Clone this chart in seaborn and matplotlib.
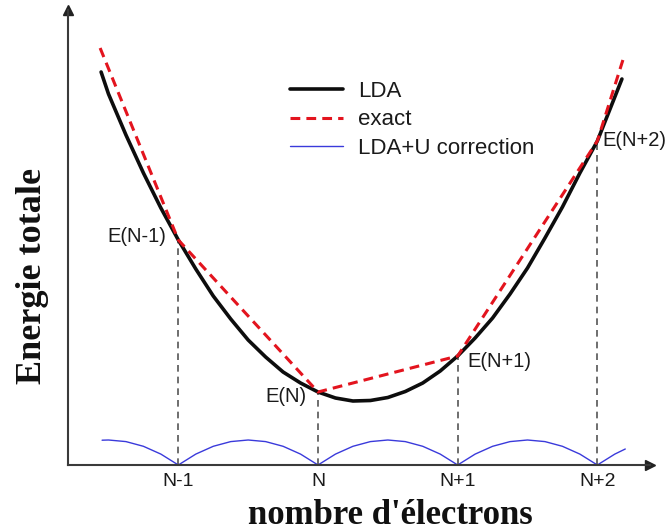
import matplotlib
matplotlib.use("Agg")
import matplotlib.pyplot as plt
import seaborn as sns
import pandas as pd

# ---- data (x in units of electrons relative to N, energy in arbitrary units) ----
tick_pos = [-1, 0, 1, 2]
tick_labels = ["N-1", "N", "N+1", "N+2"]

lda_x = [-1.553, -1.5, -1.375, -1.25, -1.125, -1.0, -0.875, -0.75, -0.625, -0.5,
         -0.375, -0.25, -0.125, 0.0, 0.125, 0.25, 0.375, 0.5, 0.625, 0.75, 0.875,
         1.0, 1.125, 1.25, 1.375, 1.5, 1.625, 1.75, 1.875, 2.0, 2.125, 2.176]
lda_e = [393, 371, 330, 292, 257, 225, 196, 169, 146, 125,
         108, 93, 82, 73, 67, 64, 64.5, 67.5, 73.5, 82, 94,
         109, 127, 147, 171, 197, 227, 258, 292, 324, 368, 386]

exact_x = [-1.560, -1.0, 0.0, 1.0, 2.0, 2.183]
exact_e = [417, 225, 73, 109, 324, 405]

ldau_x = [-1.546, -1.5, -1.375, -1.25, -1.125, -1.0, -0.875, -0.75, -0.625, -0.5,
          -0.375, -0.25, -0.125, 0.0, 0.125, 0.25, 0.375, 0.5, 0.625, 0.75, 0.875,
          1.0, 1.125, 1.25, 1.375, 1.5, 1.625, 1.75, 1.875, 2.0, 2.125, 2.2]
ldau_e = [24.8, 25, 23.4, 18.7, 10.9, 0, 10.9, 18.7, 23.4, 25,
          23.4, 18.7, 10.9, 0, 10.9, 18.7, 23.4, 25, 23.4, 18.7, 10.9,
          0, 10.9, 18.7, 23.4, 25, 23.4, 18.7, 10.9, 0, 10.9, 16]

point_x = [-1, 0, 1, 2]
point_e = [225, 73, 109, 324]
point_labels = ["E(N-1)", "E(N)", "E(N+1)", "E(N+2)"]

series_labels = ["LDA", "exact", "LDA+U correction"]

# ---- figure ----
sns.set_style("white")
plt.rcParams["font.family"] = ["Liberation Sans", "DejaVu Sans"]

fig = plt.figure(figsize=(6.7, 5.32), dpi=100)
ax = fig.add_axes([68 / 670, 67 / 532, 582 / 670, 455 / 532])

# vertical dashed guides
for px, pe in zip(point_x, point_e):
    ax.plot([px, px], [0, pe], color="#555555", lw=1.2, ls=(0, (4, 3)), zorder=1)

sns.lineplot(x=lda_x, y=lda_e, ax=ax, color="#0d0d0d", lw=2.6, sort=False,
             estimator=None, label=series_labels[0], zorder=3)
sns.lineplot(x=exact_x, y=exact_e, ax=ax, color="#e3141e", lw=2.2, sort=False,
             estimator=None, label=series_labels[1], zorder=4)
ax.lines[-1].set_linestyle((0, (3.2, 2.0)))
sns.lineplot(x=ldau_x, y=ldau_e, ax=ax, color="#3a3adb", lw=1.0, sort=False,
             estimator=None, label=series_labels[2], zorder=2)

# point labels
offsets = [(-8.6, 2.2, "right"), (-8, -3.6, "right"), (7.2, -4.3, "left"), (3.6, 0, "left")]
for (px, pe, lab), (dx, dy, ha) in zip(zip(point_x, point_e, point_labels), offsets):
    ax.annotate(lab, (px, pe), xytext=(dx, dy), textcoords="offset points",
                ha=ha, va="center", fontsize=14.5, color="#1a1a1a")

ax.set_xlim(-1.79, 2.377)
ax.set_ylim(0, 455)
ax.set_xticks(tick_pos)
ax.set_xticklabels(tick_labels, fontsize=14, color="#1a1a1a")
ax.set_yticks([])
ax.tick_params(axis="x", length=0, pad=6)

for s in ["top", "right"]:
    ax.spines[s].set_visible(False)
for s in ["left", "bottom"]:
    ax.spines[s].set_color("#3a3a3a")
    ax.spines[s].set_linewidth(1.5)

# axis arrows
ax.plot(1, 0, ">", color="#222222", ms=7, transform=ax.transAxes, clip_on=False)
ax.plot(0, 1, "^", color="#222222", ms=7, transform=ax.transAxes, clip_on=False)

ax.set_xlabel("nombre d'électrons", fontsize=25, fontweight="bold",
              family=["Liberation Serif", "DejaVu Serif"], color="#111111")
ax.xaxis.set_label_coords((390 - 68) / 582, -0.074)
ax.set_ylabel("Energie totale", fontsize=26, fontweight="bold",
              family=["Liberation Serif", "DejaVu Serif"], color="#111111")
ax.yaxis.set_label_coords(-0.033, (465 - 276.5) / 455)

leg = ax.legend(loc="upper left", bbox_to_anchor=(290 / 670, 1 - 81 / 532),
                bbox_transform=fig.transFigure, frameon=False, fontsize=16,
                handlelength=2.4, handletextpad=0.68, labelspacing=0.33,
                borderpad=0, borderaxespad=0)
for t in leg.get_texts():
    t.set_color("#1a1a1a")

fig.savefig("out.png", dpi=100)
